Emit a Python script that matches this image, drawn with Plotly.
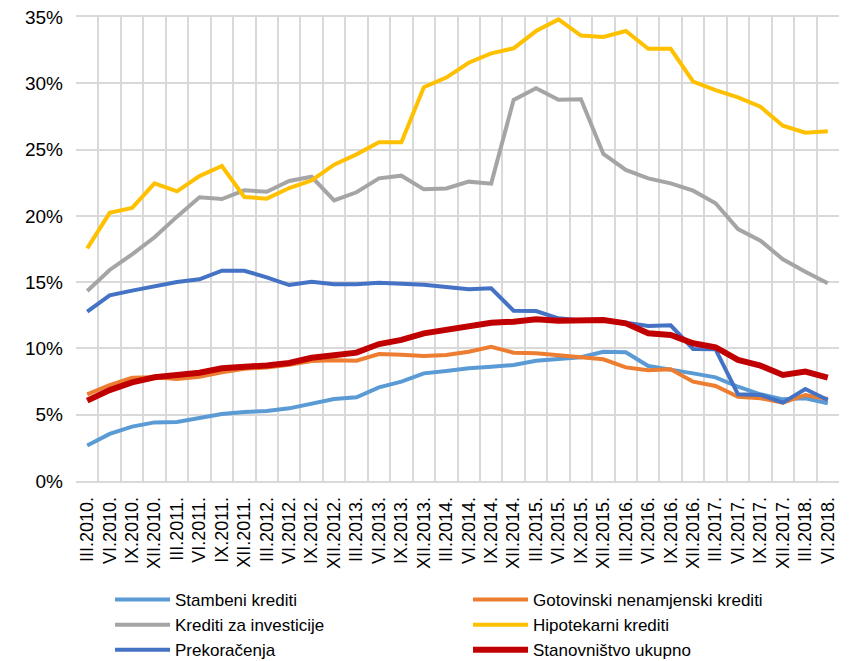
import plotly.graph_objects as go

periods = [
    "III.2010.", "VI.2010.", "IX.2010.", "XII.2010.",
    "III.2011.", "VI.2011.", "IX.2011.", "XII.2011.",
    "III.2012.", "VI.2012.", "IX.2012.", "XII.2012.",
    "III.2013.", "VI.2013.", "IX.2013.", "XII.2013.",
    "III.2014.", "VI.2014.", "IX.2014.", "XII.2014.",
    "III.2015.", "VI.2015.", "IX.2015.", "XII.2015.",
    "III.2016.", "VI.2016.", "IX.2016.", "XII.2016.",
    "III.2017.", "VI.2017.", "IX.2017.", "XII.2017.",
    "III.2018.", "VI.2018.",
]

stambeni = [2.67, 3.55, 4.1, 4.42, 4.45, 4.73, 5.05, 5.2, 5.28, 5.48,
            5.86, 6.19, 6.31, 7.06, 7.49, 8.12, 8.3, 8.5, 8.62, 8.75,
            9.07, 9.22, 9.33, 9.75, 9.71, 8.67, 8.42, 8.12, 7.82, 7.11,
            6.54, 6.16, 6.24, 5.86]
gotovinski = [6.54, 7.24, 7.79, 7.82, 7.69, 7.87, 8.2, 8.47, 8.57, 8.77,
              9.05, 9.1, 9.07, 9.58, 9.53, 9.43, 9.5, 9.75, 10.13, 9.68,
              9.63, 9.5, 9.35, 9.18, 8.57, 8.35, 8.42, 7.49, 7.17, 6.36,
              6.24, 5.91, 6.49, 6.19]
investicije = [14.33, 15.92, 17.1, 18.38, 19.94, 21.4, 21.27, 21.93, 21.82, 22.63,
               22.95, 21.17, 21.78, 22.83, 23.03, 22.0, 22.07, 22.58, 22.43, 28.74,
               29.62, 28.76, 28.8, 24.67, 23.46, 22.83, 22.45, 21.9, 20.95, 19.0,
               18.13, 16.72, 15.79, 14.91]
hipotekarni = [17.55, 20.23, 20.6, 22.45, 21.85, 23.0, 23.76, 21.42, 21.3, 22.1,
               22.68, 23.86, 24.64, 25.55, 25.55, 29.7, 30.43, 31.55, 32.26, 32.64,
               33.94, 34.82, 33.6, 33.5, 33.94, 32.6, 32.6, 30.12, 29.49, 28.94,
               28.23, 26.8, 26.27, 26.38]
prekoracenja = [12.77, 14.0, 14.36, 14.66, 15.01, 15.21, 15.86, 15.86, 15.36, 14.78,
                15.03, 14.84, 14.84, 14.96, 14.88, 14.81, 14.63, 14.46, 14.53, 12.85,
                12.82, 12.27, 12.1, 12.1, 11.94, 11.69, 11.74, 9.96, 9.93, 6.54,
                6.49, 5.91, 6.94, 6.11]
stanovnistvo = [6.06, 6.86, 7.44, 7.82, 8.0, 8.17, 8.5, 8.57, 8.72, 8.9,
                9.3, 9.48, 9.68, 10.33, 10.64, 11.14, 11.37, 11.64, 11.94, 12.02,
                12.2, 12.09, 12.07, 12.14, 11.89, 11.14, 11.01, 10.39, 10.09, 9.13,
                8.7, 8.0, 8.25, 7.79]

# legend order is row-major: left column / right column
series = [
    ("Stambeni krediti", stambeni, "#5B9BD5", 4),
    ("Gotovinski nenamjenski krediti", gotovinski, "#ED7D31", 4),
    ("Krediti za investicije", investicije, "#A5A5A5", 4),
    ("Hipotekarni krediti", hipotekarni, "#FFC000", 4),
    ("Prekoračenja", prekoracenja, "#4472C4", 4),
    ("Stanovništvo ukupno", stanovnistvo, "#C00000", 6),
]

fig = go.Figure()
for name, vals, color, w in series:
    fig.add_trace(go.Scatter(x=periods, y=vals, name=name, mode="lines",
                             line=dict(color=color, width=w)))

# page body has an 8px margin, so the figure is 8px smaller than the window
font = "Liberation Sans, Arial, sans-serif"
fig.update_layout(
    width=842, height=653,
    margin=dict(l=68, r=11, t=9, b=180),
    plot_bgcolor="white", paper_bgcolor="white",
    font=dict(family=font, size=18, color="black"),
    showlegend=True,
    legend=dict(orientation="h", x=0.0446, xanchor="left",
                y=0.121, yref="container", yanchor="top",
                entrywidth=288, entrywidthmode="pixels", itemwidth=55,
                tracegroupgap=0, font=dict(size=17)),
    xaxis=dict(type="category", range=[-0.5, len(periods) - 0.5],
               tickmode="linear", dtick=1,
               tickangle=-90, tickson="boundaries", showgrid=True,
               gridcolor="#d9d9d9", gridwidth=1.7, ticks="",
               showline=True, linecolor="#d9d9d9", linewidth=1.7,
               mirror=True, ticklabelstandoff=7, automargin=False,
               tickfont=dict(size=18)),
    yaxis=dict(range=[0, 35], dtick=5, ticksuffix="%", showgrid=True,
               gridcolor="#d9d9d9", gridwidth=1.7, zeroline=False,
               showline=False, ticklabelstandoff=12, automargin=False,
               ticklabeloverflow="allow", tickfont=dict(size=19)),
)

fig.write_html("out.html")
